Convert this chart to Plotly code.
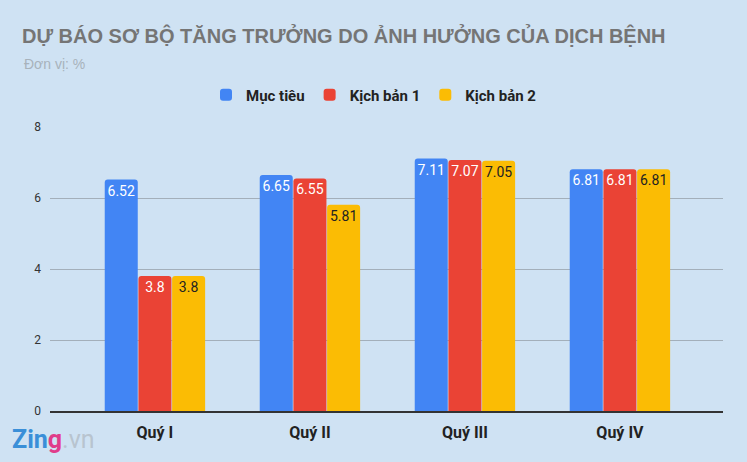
import plotly.graph_objects as go

categories = ["Quý I", "Quý II", "Quý III", "Quý IV"]
muc_tieu = [6.52, 6.65, 7.11, 6.81]
kich_ban_1 = [3.8, 6.55, 7.07, 6.81]
kich_ban_2 = [3.8, 5.81, 7.05, 6.81]
y_ticks = [0, 2, 4, 6, 8]

series = [
    ("Mục tiêu", muc_tieu, "#4285f4", "white"),
    ("Kịch bản 1", kich_ban_1, "#ea4335", "white"),
    ("Kịch bản 2", kich_ban_2, "#fbbc04", "#222222"),
]

fig = go.Figure()
for name, vals, color, tcolor in series:
    fig.add_trace(go.Bar(
        x=categories, y=vals, name=name,
        marker=dict(color=color, line=dict(width=0)),
        text=[f"{v:g}" for v in vals], textposition="inside",
        insidetextanchor="end",
        textfont=dict(color=tcolor, size=14, family="Roboto"),
        textangle=0,
    ))

bg = "#cfe2f3"
L, R, T, B = 50, 24, 127, 51
PW, PH = 747 - L - R, 462 - T - B
fig.update_layout(
    width=747, height=462,
    paper_bgcolor=bg, plot_bgcolor=bg,
    barmode="group", bargap=0.348, bargroupgap=0.02,
    barcornerradius=3,
    margin=dict(l=L, r=R, t=T, b=B, autoexpand=False),
    font=dict(family="Roboto", color="#222222"),
    title=dict(
        text="<b>DỰ BÁO SƠ BỘ TĂNG TRƯỞNG DO ẢNH HƯỞNG CỦA DỊCH BỆNH</b>",
        x=22 / 747, xref="container", xanchor="left",
        y=1 - 36 / 462, yref="container", yanchor="middle",
        font=dict(size=20, color="#757575", family="Liberation Sans, Arial"),
    ),
    legend=dict(
        orientation="h", x=(374 - L) / PW, xanchor="center",
        y=1 + (T - 95) / PH, yanchor="middle",
        font=dict(size=15, color="#222222", family="Roboto", weight="bold"),
        bgcolor="rgba(0,0,0,0)", itemwidth=30, tracegroupgap=0,
    ),
    uniformtext=dict(mode="show", minsize=14),
    xaxis=dict(
        range=[-0.677, 3.665],
        tickfont=dict(size=16, color="#222222", family="Roboto", weight="bold"),
        showline=True, linecolor="#333333", linewidth=1.5,
        ticks="", ticklabelstandoff=6,
    ),
    yaxis=dict(
        range=[0, 8], tickvals=y_ticks,
        tickfont=dict(size=12, color="#333333", family="Roboto"),
        showgrid=True, gridcolor="#a3afba", gridwidth=1,
        zeroline=False, ticklabelstandoff=8,
    ),
    annotations=[
        dict(text="Đơn vị: %", x=(22 - L) / PW, xref="paper", y=1 + (T - 64) / PH, yref="paper",
             showarrow=False, xanchor="left", yanchor="middle",
             font=dict(size=14, color="#a8b2bb", family="Liberation Sans, Arial")),
        dict(text="<b><span style='color:#3a8fd8'>Zin</span><span style='color:#e03c8a'>g</span></b><span style='color:#b8c4cf'>.vn</span>",
             x=(10 - L) / PW, xref="paper", y=-(439 - (462 - B)) / PH, yref="paper",
             showarrow=False, xanchor="left", yanchor="middle",
             font=dict(size=25, family="Roboto")),
    ],
)

fig.write_html("out.html", config={"displayModeBar": False},
               post_script="document.body.style.margin='0';document.body.style.background='" + bg + "';")
